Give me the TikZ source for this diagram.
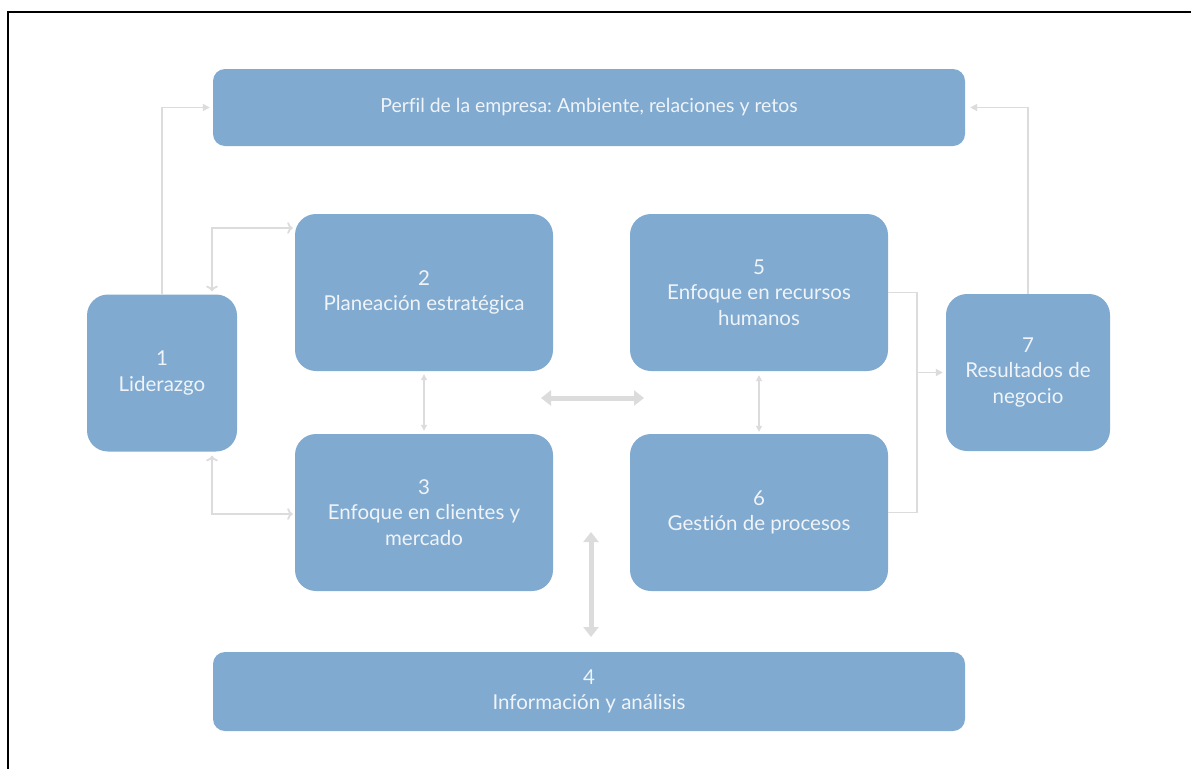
\documentclass[tikz,border=0pt]{standalone}
\usepackage{fontspec}
\setmainfont{Lato}[Ligatures=NoCommon]
\frenchspacing
\usetikzlibrary{arrows.meta}
\definecolor{boxblue}{HTML}{80AAD0}
\definecolor{boxtext}{HTML}{F0F4F8}
\definecolor{linkgray}{HTML}{DCDCDC}
\begin{document}
\begin{tikzpicture}[x=1pt,y=-1pt,
  block/.style={fill=boxblue, draw=none, text=boxtext, align=center,
    inner sep=0pt, font=\fontsize{20.5}{25.5}\selectfont},
  wide/.style={block, minimum width=752pt, rounded corners=12pt},
  tall/.style={block, minimum height=157pt, rounded corners=21pt},
  link/.style={draw=linkgray, line width=1.8pt,
    -{Triangle[length=7pt,width=7pt]}},
  biglink/.style={draw=linkgray, line width=5pt,
    {Triangle[length=10pt,width=15pt]}-{Triangle[length=10pt,width=15pt]}}]

% canvas and frame
\useasboundingbox (0,0) rectangle (1191,769);
\fill[white] (0,0) rectangle (1191,769);
\draw[line width=1.8pt] (8,769) -- (8,12) -- (1191,12);

% blocks
\node[wide, minimum height=77pt, font=\fontsize{19.4}{23}\selectfont] (perfil) at (589,107.5)
  {Perfil de la empresa: Ambiente, relaciones y retos};
\node[tall, minimum width=150pt] (lid) at (162,373) {1\\Liderazgo};
\node[tall, minimum width=258pt] (plan) at (424,292.5) {2\\Planeación estratégica};
\node[tall, minimum width=258pt] (cli) at (424,512.5) {3\\Enfoque en clientes y\\mercado};
\node[tall, minimum width=258pt] (rh) at (759,292.5) {5\\Enfoque en recursos\\humanos};
\node[tall, minimum width=258pt] (proc) at (759,512.5) {6\\Gestión de procesos};
\node[tall, minimum width=164pt] (res) at (1028,372.5) {7\\Resultados de\\negocio};
\node[wide, minimum height=79pt] (info) at (589,691.5) {4\\Información y análisis};

% junction points
\coordinate (bus) at (917,372.5);
\coordinate (hl) at (541,398);
\coordinate (hr) at (644,398);
\coordinate (vt) at (591,532);
\coordinate (vb) at (591,637);

% thin connectors
\draw[link, shorten >=3pt] (lid.north) |- (perfil.west);
\draw[link, <->, shorten >=2pt, shorten <=3pt]
  ([xshift=50pt]lid.north) |- ([yshift=64.5pt]plan.west);
\draw[link, <->, shorten >=2pt, shorten <=4pt]
  ([xshift=50pt]lid.south) |- ([yshift=-1.5pt]cli.west);
\draw[link, <->, line width=1.2pt, shorten >=3pt, shorten <=3pt,
  {Triangle[length=6pt,width=6pt]}-{Triangle[length=6pt,width=6pt]}]
  (plan.south) -- (cli.north);
\draw[link, <->, line width=1.2pt, shorten >=2pt, shorten <=4pt,
  {Triangle[length=6pt,width=6pt]}-{Triangle[length=6pt,width=6pt]}]
  (rh.south) -- (proc.north);
\draw[draw=linkgray, line width=1.8pt] (rh.east) -| (bus) |- (proc.east);
\draw[link, shorten >=3pt] (bus) -- (res.west);
\draw[link, shorten >=5pt] (res.north) |- (perfil.east);

% thick connectors
\draw[biglink] (hl) -- (hr);
\draw[biglink] (vt) -- (vb);
\end{tikzpicture}
\end{document}
